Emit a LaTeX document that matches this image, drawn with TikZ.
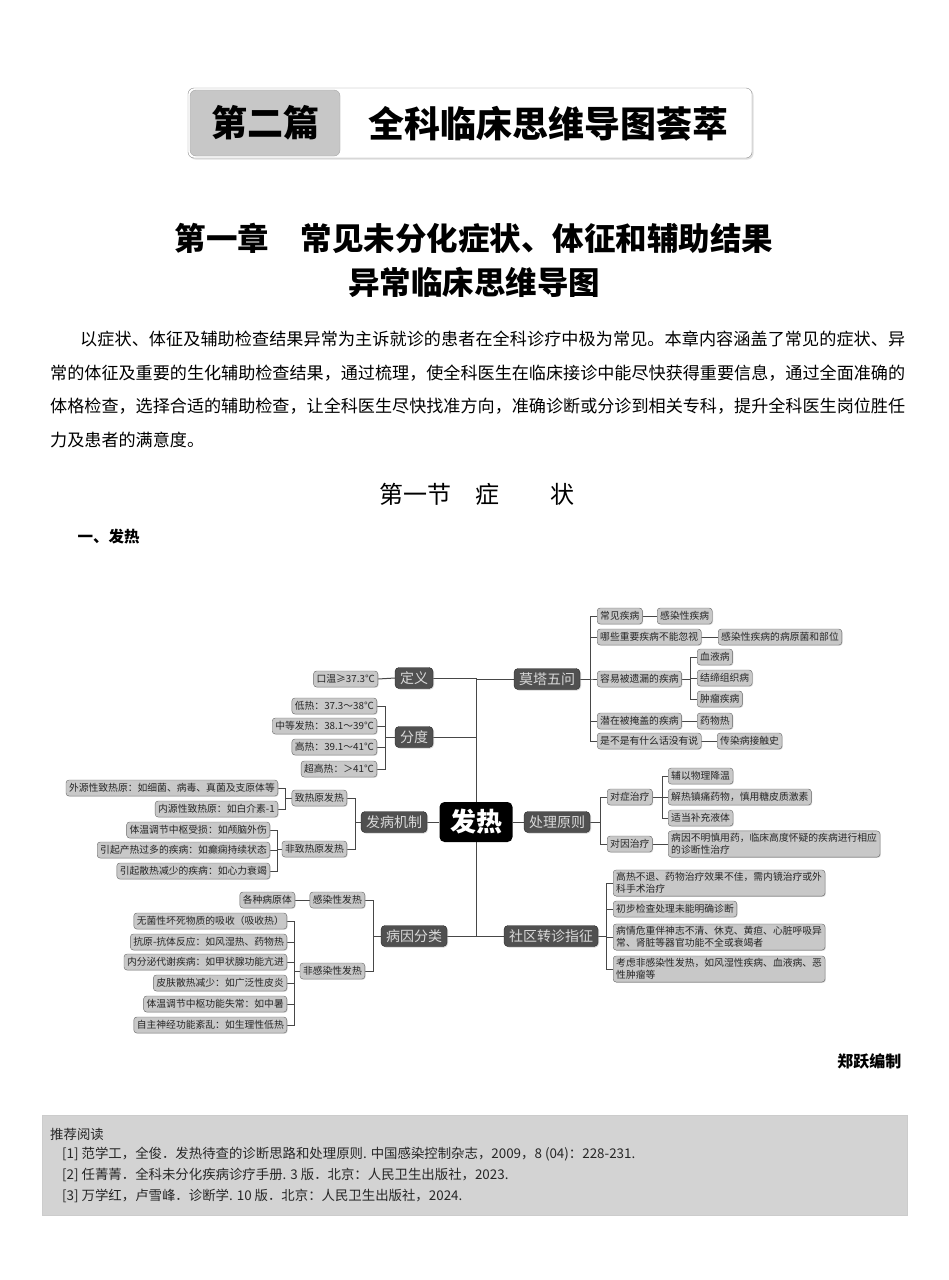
\documentclass[tikz,border=0pt]{standalone}
\usepackage{fontspec}
\setmainfont{Noto Sans CJK SC}
\usetikzlibrary{shadows,backgrounds}
\makeatletter
\newcommand\jline[2]{\hbox to #1{\@tfor\jl@c:=#2\do{\jl@c\hskip 0pt plus 1fil}\unskip}}
\makeatother
\newcommand\fsz[2]{\fontsize{#1}{#2}\selectfont}
\definecolor{leafc}{HTML}{C8C8C8}
\definecolor{lvlc}{HTML}{505050}
\definecolor{linec}{HTML}{474747}
\definecolor{refc}{HTML}{D3D3D3}
\tikzset{
  leaf/.style={draw=black!60, fill=leafc, rounded corners=3pt, inner xsep=3pt, inner ysep=2pt,
    minimum height=16pt, font=\fsz{9.8}{12}, text=black!85,
    drop shadow={shadow xshift=0.8pt, shadow yshift=-0.8pt, fill=black!30}},
  leaftwo/.style={leaf, align=left, inner ysep=2.5pt},
  lvl/.style={draw=black!85, fill=lvlc, rounded corners=4pt, inner xsep=5pt, inner ysep=2pt,
    minimum height=21pt, font=\fsz{14}{16}, text=white!85!black,
    drop shadow={shadow xshift=1pt, shadow yshift=-1pt, fill=black!35}},
  hub/.style={fill=black, rounded corners=5pt, minimum width=73pt, minimum height=40pt,
    text=white, font=\bfseries\fsz{26}{30}},
  link/.style={draw=linec, line width=1pt},
  para/.style={anchor=west, inner sep=0pt, font=\fsz{17.1}{20}},
  reft/.style={anchor=west, inner sep=0pt, font=\fsz{13.4}{15}, text=black!85}
}
\begin{document}
\begin{tikzpicture}[x=1pt,y=-1pt]
\useasboundingbox (0,0) rectangle (948,1280);

% ---------- title banner ----------
\node[draw=black!45, fill=white, rounded corners=6pt, minimum width=564pt, minimum height=70pt,
  drop shadow={shadow xshift=1.5pt, shadow yshift=-1.5pt, fill=black!25}] (banner) at (470,123) {};
\node[draw=black!35, fill=black!22, rounded corners=6pt, minimum width=150pt, minimum height=66pt,
  font=\bfseries\fsz{36}{40}] (pian) at (265,123) {第二篇};
\node[font=\bfseries\fsz{36}{40}] (btitle) at (548,124) {全科临床思维导图荟萃};

% ---------- chapter title ----------
\node[font=\bfseries\fsz{31.5}{36}] (ch1) at (474,238) {第一章\hspace{1em}常见未分化症状、体征和辅助结果};
\node[font=\bfseries\fsz{31.5}{36}] (ch2) at (474,282) {异常临床思维导图};

% ---------- paragraph ----------
\node[para] (p1) at (80,339) {\jline{825pt}{以症状、体征及辅助检查结果异常为主诉就诊的患者在全科诊疗中极为常见。本章内容涵盖了常见的症状、异}};
\node[para] (p2) at (50,373) {\jline{855pt}{常的体征及重要的生化辅助检查结果，通过梳理，使全科医生在临床接诊中能尽快获得重要信息，通过全面准确的}};
\node[para] (p3) at (50,406) {\jline{855pt}{体格检查，选择合适的辅助检查，让全科医生尽快找准方向，准确诊断或分诊到相关专科，提升全科医生岗位胜任}};
\node[para] (p4) at (50,440) {力及患者的满意度。};

% ---------- section ----------
\node[font=\fsz{24}{28}] (sec1) at (415,494) {第一节};
\node[font=\fsz{24}{28}] (sec2) at (487,494) {症};
\node[font=\fsz{24}{28}] (sec3) at (562,494) {状};
\node[anchor=west, font=\bfseries\fsz{15.5}{18}] (yi) at (74,537) {一、发热};

% ---------- mind map: main nodes ----------
\node[hub] (hub) at (476,822) {发热};
\node[lvl] (dingyi) at (414,678) {定义};
\node[lvl] (fendu) at (414,737) {分度};
\node[lvl] (jizhi) at (394,822) {发病机制};
\node[lvl] (bingyin) at (414,936) {病因分类};
\node[lvl] (mota) at (547,679) {莫塔五问};
\node[lvl] (chuli) at (557,822) {处理原则};
\node[lvl] (shequ) at (551,936) {社区转诊指征};

% 定义
\node[leaf, anchor=east] (kouwen) at (378,679) {口温≥37.3℃};
% 分度
\node[leaf, anchor=east] (d1) at (377,706) {低热：37.3～38℃};
\node[leaf, anchor=east] (d2) at (377,726) {中等发热：38.1～39℃};
\node[leaf, anchor=east] (d3) at (377,747) {高热：39.1～41℃};
\node[leaf, anchor=east] (d4) at (377,769) {超高热：＞41℃};
% 发病机制
\node[leaf, anchor=east] (zr) at (347,798) {致热原发热};
\node[leaf, anchor=east] (fzr) at (347,849) {非致热原发热};
\node[leaf, anchor=east] (zr1) at (278,788) {外源性致热原：如细菌、病毒、真菌及支原体等};
\node[leaf, anchor=east] (zr2) at (278,809) {内源性致热原：如白介素-1};
\node[leaf, anchor=east] (f1) at (270,830) {体温调节中枢受损：如颅脑外伤};
\node[leaf, anchor=east] (f2) at (270,850) {引起产热过多的疾病：如癫痫持续状态};
\node[leaf, anchor=east] (f3) at (270,871) {引起散热减少的疾病：如心力衰竭};
% 病因分类
\node[leaf, anchor=east] (gr) at (365,900) {感染性发热};
\node[leaf, anchor=east] (fgr) at (365,971) {非感染性发热};
\node[leaf, anchor=east] (gr1) at (295,900) {各种病原体};
\node[leaf, anchor=east] (g1) at (287,921) {无菌性坏死物质的吸收（吸收热）};
\node[leaf, anchor=east] (g2) at (287,942) {抗原-抗体反应：如风湿热、药物热};
\node[leaf, anchor=east] (g3) at (287,962) {内分泌代谢疾病：如甲状腺功能亢进};
\node[leaf, anchor=east] (g4) at (287,983) {皮肤散热减少：如广泛性皮炎};
\node[leaf, anchor=east] (g5) at (287,1004) {体温调节中枢功能失常：如中暑};
\node[leaf, anchor=east] (g6) at (287,1025) {自主神经功能紊乱：如生理性低热};
% 莫塔五问
\node[leaf, anchor=west] (m1) at (597,616) {常见疾病};
\node[leaf, anchor=west] (m2) at (597,637) {哪些重要疾病不能忽视};
\node[leaf, anchor=west] (m3) at (597,679) {容易被遗漏的疾病};
\node[leaf, anchor=west] (m4) at (597,721) {潜在被掩盖的疾病};
\node[leaf, anchor=west] (m5) at (597,741) {是不是有什么话没有说};
\node[leaf, anchor=west] (m1a) at (657,616) {感染性疾病};
\node[leaf, anchor=west] (m2a) at (718,637) {感染性疾病的病原菌和部位};
\node[leaf, anchor=west] (m3a) at (697,657) {血液病};
\node[leaf, anchor=west] (m3b) at (697,678) {结缔组织病};
\node[leaf, anchor=west] (m3c) at (697,699) {肿瘤疾病};
\node[leaf, anchor=west] (m4a) at (697,721) {药物热};
\node[leaf, anchor=west] (m5a) at (717,741) {传染病接触史};
% 处理原则
\node[leaf, anchor=west] (c1) at (607,797) {对症治疗};
\node[leaf, anchor=west] (c2) at (607,844) {对因治疗};
\node[leaf, anchor=west] (c1a) at (668,776) {辅以物理降温};
\node[leaf, anchor=west] (c1b) at (668,797) {解热镇痛药物，慎用糖皮质激素};
\node[leaf, anchor=west] (c1c) at (668,818) {适当补充液体};
\node[leaftwo, anchor=west] (c2a) at (668,844) {病因不明慎用药，临床高度怀疑的疾病进行相应\\的诊断性治疗};
% 社区转诊指征
\node[leaftwo, anchor=west] (s1) at (613,883) {高热不退、药物治疗效果不佳，需内镜治疗或外\\科手术治疗};
\node[leaf, anchor=west] (s2) at (613,909) {初步检查处理未能明确诊断};
\node[leaftwo, anchor=west] (s3) at (613,937) {病情危重伴神志不清、休克、黄疸、心脏呼吸异\\常、肾脏等器官功能不全或衰竭者};
\node[leaftwo, anchor=west] (s4) at (613,969) {考虑非感染性发热，如风湿性疾病、血液病、恶\\性肿瘤等};

% bracket x positions
\coordinate (bfd) at (385,0);
\coordinate (bjz) at (355,0);
\coordinate (bzr) at (285,0);
\coordinate (bfz) at (277,0);
\coordinate (bby) at (373,0);
\coordinate (bfg) at (294,0);
\coordinate (bmt) at (590,0);
\coordinate (bm3) at (690,0);
\coordinate (bcl) at (600,0);
\coordinate (bc1) at (662,0);
\coordinate (bsq) at (606,0);

\begin{pgfonlayer}{background}
  % trunk
  \draw[link] (dingyi.east -| hub.center) -- (bingyin.east -| hub.center);
  \draw[link] (dingyi.east) -- (dingyi.east -| hub.center);
  \draw[link] (fendu.east) -- (fendu.east -| hub.center);
  \draw[link] (bingyin.east) -- (bingyin.east -| hub.center);
  \draw[link] (mota.west) -- (mota.west -| hub.center);
  \draw[link] (shequ.west) -- (shequ.west -| hub.center);
  \draw[link] (jizhi.east) -- (hub.west);
  \draw[link] (hub.east) -- (chuli.west);
  % left side
  \draw[link] (dingyi.west) -- (kouwen.east);
  \foreach \c in {d1,d2,d3,d4} \draw[link] (fendu.west) -- (fendu.west -| bfd) |- (\c.east);
  \foreach \c in {zr,fzr} \draw[link] (jizhi.west) -- (jizhi.west -| bjz) |- (\c.east);
  \foreach \c in {zr1,zr2} \draw[link] (zr.west) -- (zr.west -| bzr) |- (\c.east);
  \foreach \c in {f1,f2,f3} \draw[link] (fzr.west) -- (fzr.west -| bfz) |- (\c.east);
  \foreach \c in {gr,fgr} \draw[link] (bingyin.west) -- (bingyin.west -| bby) |- (\c.east);
  \draw[link] (gr.west) -- (gr1.east);
  \foreach \c in {g1,g2,g3,g4,g5,g6} \draw[link] (fgr.west) -- (fgr.west -| bfg) |- (\c.east);
  % right side
  \foreach \c in {m1,m2,m3,m4,m5} \draw[link] (mota.east) -- (mota.east -| bmt) |- (\c.west);
  \draw[link] (m1.east) -- (m1a.west);
  \draw[link] (m2.east) -- (m2a.west);
  \foreach \c in {m3a,m3b,m3c} \draw[link] (m3.east) -- (m3.east -| bm3) |- (\c.west);
  \draw[link] (m4.east) -- (m4a.west);
  \draw[link] (m5.east) -- (m5a.west);
  \foreach \c in {c1,c2} \draw[link] (chuli.east) -- (chuli.east -| bcl) |- (\c.west);
  \foreach \c in {c1a,c1b,c1c} \draw[link] (c1.east) -- (c1.east -| bc1) |- (\c.west);
  \draw[link] (c2.east) -- (c2a.west);
  \foreach \c in {s1,s2,s3,s4} \draw[link] (shequ.east) -- (shequ.east -| bsq) |- (\c.west);
\end{pgfonlayer}

% ---------- author ----------
\node[anchor=east, font=\bfseries\fsz{16}{18}] (author) at (905,1061) {郑跃编制};

% ---------- recommended reading ----------
\node[fill=refc, draw=black!20, minimum width=865pt, minimum height=100pt, anchor=north west, inner sep=0pt] (refbox) at (42,1115) {};
\node[reft] (rtitle) at (50,1134) {推荐阅读};
\node[reft] (r1) at (62,1154) {[1] 范学工，全俊．发热待查的诊断思路和处理原则. 中国感染控制杂志，2009，8 (04)：228-231.};
\node[reft] (r2) at (62,1175) {[2] 任菁菁．全科未分化疾病诊疗手册. 3 版．北京：人民卫生出版社，2023.};
\node[reft] (r3) at (62,1196) {[3] 万学红，卢雪峰．诊断学. 10 版．北京：人民卫生出版社，2024.};
\end{tikzpicture}
\end{document}
